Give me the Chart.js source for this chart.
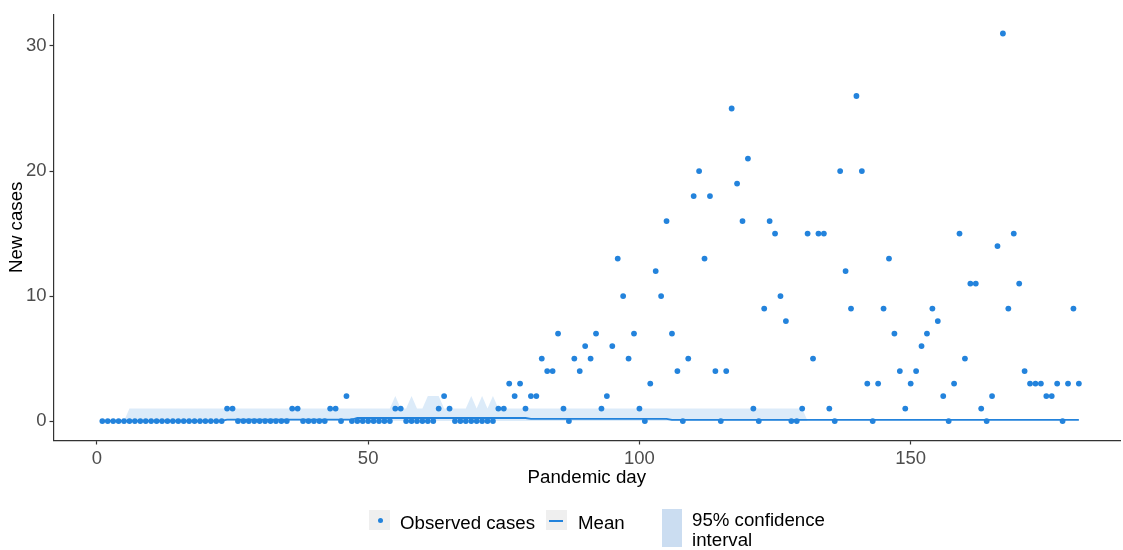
<!DOCTYPE html>
<html>
<head>
<meta charset="utf-8">
<script src="https://cdn.jsdelivr.net/npm/chart.js@4.4.1/dist/chart.umd.min.js"></script>
<style>
  html, body { margin: 0; padding: 0; background: #fff; overflow: hidden; }
  #wrap { position: relative; width: 1123px; height: 550px; }
  #c { position: absolute; left: 0; top: 0; }
  .txt { position: absolute; font-family: 'Liberation Sans', Arial, sans-serif; font-size: 18.7px; color: #000; white-space: nowrap; }
  .key { position: absolute; background: #efefef; }
  .dot { position: absolute; width: 5px; height: 5px; border-radius: 50%; background: #2383dc; left: 9px; top: 8px; }
  .seg { position: absolute; height: 2px; width: 14px; background: #2383dc; left: 3px; top: 10px; }
</style>
</head>
<body>
<div id="wrap">
  <canvas id="c" width="1123" height="550"></canvas>
  <div class="key" style="left:369px;top:510px;width:21px;height:20px"><div class="dot"></div></div>
  <div class="txt" style="left:400px;top:513px;line-height:19px">Observed cases</div>
  <div class="key" style="left:546px;top:510px;width:21px;height:20px"><div class="seg"></div></div>
  <div class="txt" style="left:578px;top:513px;line-height:19px">Mean</div>
  <div class="key" style="left:662px;top:509px;width:20px;height:38px;background:#cbddf1"></div>
  <div class="txt" style="left:692px;top:510px;line-height:20px">95% confidence<br>interval</div>
</div>
<script>
// Daily new cases, day 1 .. day 181
const observed = [
  0,0,0,0,0,0,0,0,0,0,
  0,0,0,0,0,0,0,0,0,0,
  0,0,0,1,1,0,0,0,0,0,
  0,0,0,0,0,1,1,0,0,0,
  0,0,1,1,0,2,0,0,0,0,
  0,0,0,0,1,1,0,0,0,0,
  0,0,1,2,1,0,0,0,0,0,
  0,0,0,1,1,3,2,3,1,2,
  2,5,4,4,7,1,0,5,4,6,
  5,7,1,2,6,13,10,5,7,1,
  0,3,12,10,16,7,4,0,5,18,
  20,13,18,4,0,4,25,19,16,21,
  1,0,9,16,15,10,8,0,0,1,
  15,5,15,15,1,0,20,12,9,26,
  20,3,0,3,9,13,7,4,1,3,
  4,6,7,9,8,2,0,3,15,5,
  11,11,1,0,2,14,31,9,15,11,
  4,3,3,3,2,2,3,0,3,9,
  3
];

// Model mean per day
const meanCases = [
  0.02,0.02,0.02,0.02,0.02,0.02,0.02,0.02,0.02,0.02,
  0.02,0.02,0.02,0.02,0.02,0.02,0.02,0.02,0.02,0.02,
  0.02,0.02,0.02,0.12,0.12,0.12,0.12,0.12,0.12,0.12,
  0.12,0.12,0.12,0.12,0.12,0.12,0.12,0.12,0.12,0.12,
  0.12,0.12,0.12,0.12,0.12,0.12,0.12,0.25,0.25,0.25,
  0.25,0.25,0.25,0.25,0.25,0.25,0.25,0.25,0.25,0.25,
  0.25,0.25,0.25,0.25,0.25,0.25,0.25,0.25,0.25,0.25,
  0.25,0.25,0.25,0.25,0.25,0.25,0.25,0.25,0.25,0.18,
  0.18,0.18,0.18,0.18,0.18,0.18,0.18,0.18,0.18,0.18,
  0.18,0.18,0.18,0.18,0.18,0.18,0.18,0.18,0.18,0.18,
  0.18,0.18,0.18,0.18,0.18,0.1,0.1,0.1,0.1,0.1,
  0.1,0.1,0.1,0.1,0.1,0.1,0.1,0.1,0.1,0.1,
  0.1,0.1,0.1,0.1,0.1,0.1,0.1,0.1,0.1,0.1,
  0.1,0.1,0.1,0.1,0.1,0.1,0.1,0.1,0.1,0.1,
  0.1,0.1,0.1,0.1,0.1,0.1,0.1,0.1,0.1,0.1,
  0.1,0.1,0.1,0.1,0.1,0.1,0.1,0.1,0.1,0.1,
  0.1,0.1,0.1,0.1,0.1,0.1,0.1,0.1,0.1,0.1,
  0.1,0.1,0.1,0.1,0.1,0.1,0.1,0.1,0.1,0.1,
  0.1
];

// Upper limit of the 95% interval (lower limit is 0)
const ciUpper = [
  0,0,0,0,0,1,1,1,1,1,
  1,1,1,1,1,1,1,1,1,1,
  1,1,1,1,1,1,1,1,1,1,
  1,1,1,1,1,1,1,1,1,1,
  1,1,1,1,1,1,1,1,1,1,
  1,1,1,1,2,1,1,2,1,1,
  2,2,2,1,1,1,1,1,2,1,
  2,1,2,1,1,1,1,1,1,1,
  1,1,1,1,1,1,1,1,1,1,
  1,1,1,1,1,1,1,1,1,1,
  1,1,1,1,1,1,1,1,1,1,
  1,1,1,1,1,1,1,1,1,1,
  1,1,1,1,1,1,1,1,1,1,
  0,0,0,0,0,0,0,0,0,0,
  0,0,0,0,0,0,0,0,0,0,
  0,0,0,0,0,0,0,0,0,0,
  0,0,0,0,0,0,0,0,0,0,
  0,0,0,0,0,0,0,0,0,0,
  0
];

const xTickValues = [0, 50, 100, 150];
const yTickValues = [0, 10, 20, 30];

const days = observed.map((_, i) => i + 1);
const toXY = arr => arr.map((v, i) => ({ x: days[i], y: v }));

const BLUE = '#2383dc';
const AXIS = '#333333';
const TICK_TXT = '#4d4d4d';
const FONT = "'Liberation Sans', Arial, sans-serif";

new Chart(document.getElementById('c'), {
  type: 'line',
  data: {
    datasets: [
      {
        label: 'Observed cases',
        data: toXY(observed),
        showLine: false,
        pointRadius: 2.9,
        pointBackgroundColor: BLUE,
        pointBorderWidth: 0,
        pointHoverRadius: 0
      },
      {
        label: 'Mean',
        data: toXY(meanCases),
        borderColor: BLUE,
        borderWidth: 1.8,
        pointRadius: 0,
        fill: false,
        tension: 0
      },
      {
        label: '95% confidence interval',
        data: toXY(ciUpper),
        borderWidth: 0,
        borderColor: 'rgba(0,0,0,0)',
        backgroundColor: 'rgba(35,131,220,0.16)',
        pointRadius: 0,
        fill: { value: 0 },
        tension: 0
      }
    ]
  },
  options: {
    responsive: false,
    devicePixelRatio: 1,
    animation: false,
    events: [],
    layout: { padding: { top: 11, left: 0, right: 0, bottom: 61.2 } },
    plugins: {
      legend: { display: false },
      tooltip: { enabled: false },
      filler: { propagate: false }
    },
    scales: {
      x: {
        type: 'linear',
        min: -8,
        max: 188.6,
        afterBuildTicks: s => { s.ticks = xTickValues.map(v => ({ value: v })); },
        afterFit: s => { s.height = 48.3; },
        grid: { drawOnChartArea: false, drawTicks: true, tickLength: 4, tickColor: AXIS, tickWidth: 1.2 },
        border: { display: true, color: AXIS, width: 1.2 },
        ticks: { color: TICK_TXT, font: { family: FONT, size: 18.5 }, padding: 3, maxRotation: 0, autoSkip: false },
        title: { display: true, text: 'Pandemic day', color: '#000', font: { family: FONT, size: 18.7 }, padding: { top: 0, bottom: 0 } }
      },
      y: {
        type: 'linear',
        min: -1.55,
        max: 32.55,
        afterBuildTicks: s => { s.ticks = yTickValues.map(v => ({ value: v })); },
        afterFit: s => { s.width = 53.5; },
        grid: { drawOnChartArea: false, drawTicks: true, tickLength: 4, tickColor: AXIS, tickWidth: 1.2 },
        border: { display: true, color: AXIS, width: 1.2 },
        ticks: { color: TICK_TXT, font: { family: FONT, size: 18.5 }, padding: 3 },
        title: { display: true, text: 'New cases', color: '#000', font: { family: FONT, size: 18.7 }, padding: { top: 6, bottom: 0 } }
      }
    }
  }
});
</script>
</body>
</html>
